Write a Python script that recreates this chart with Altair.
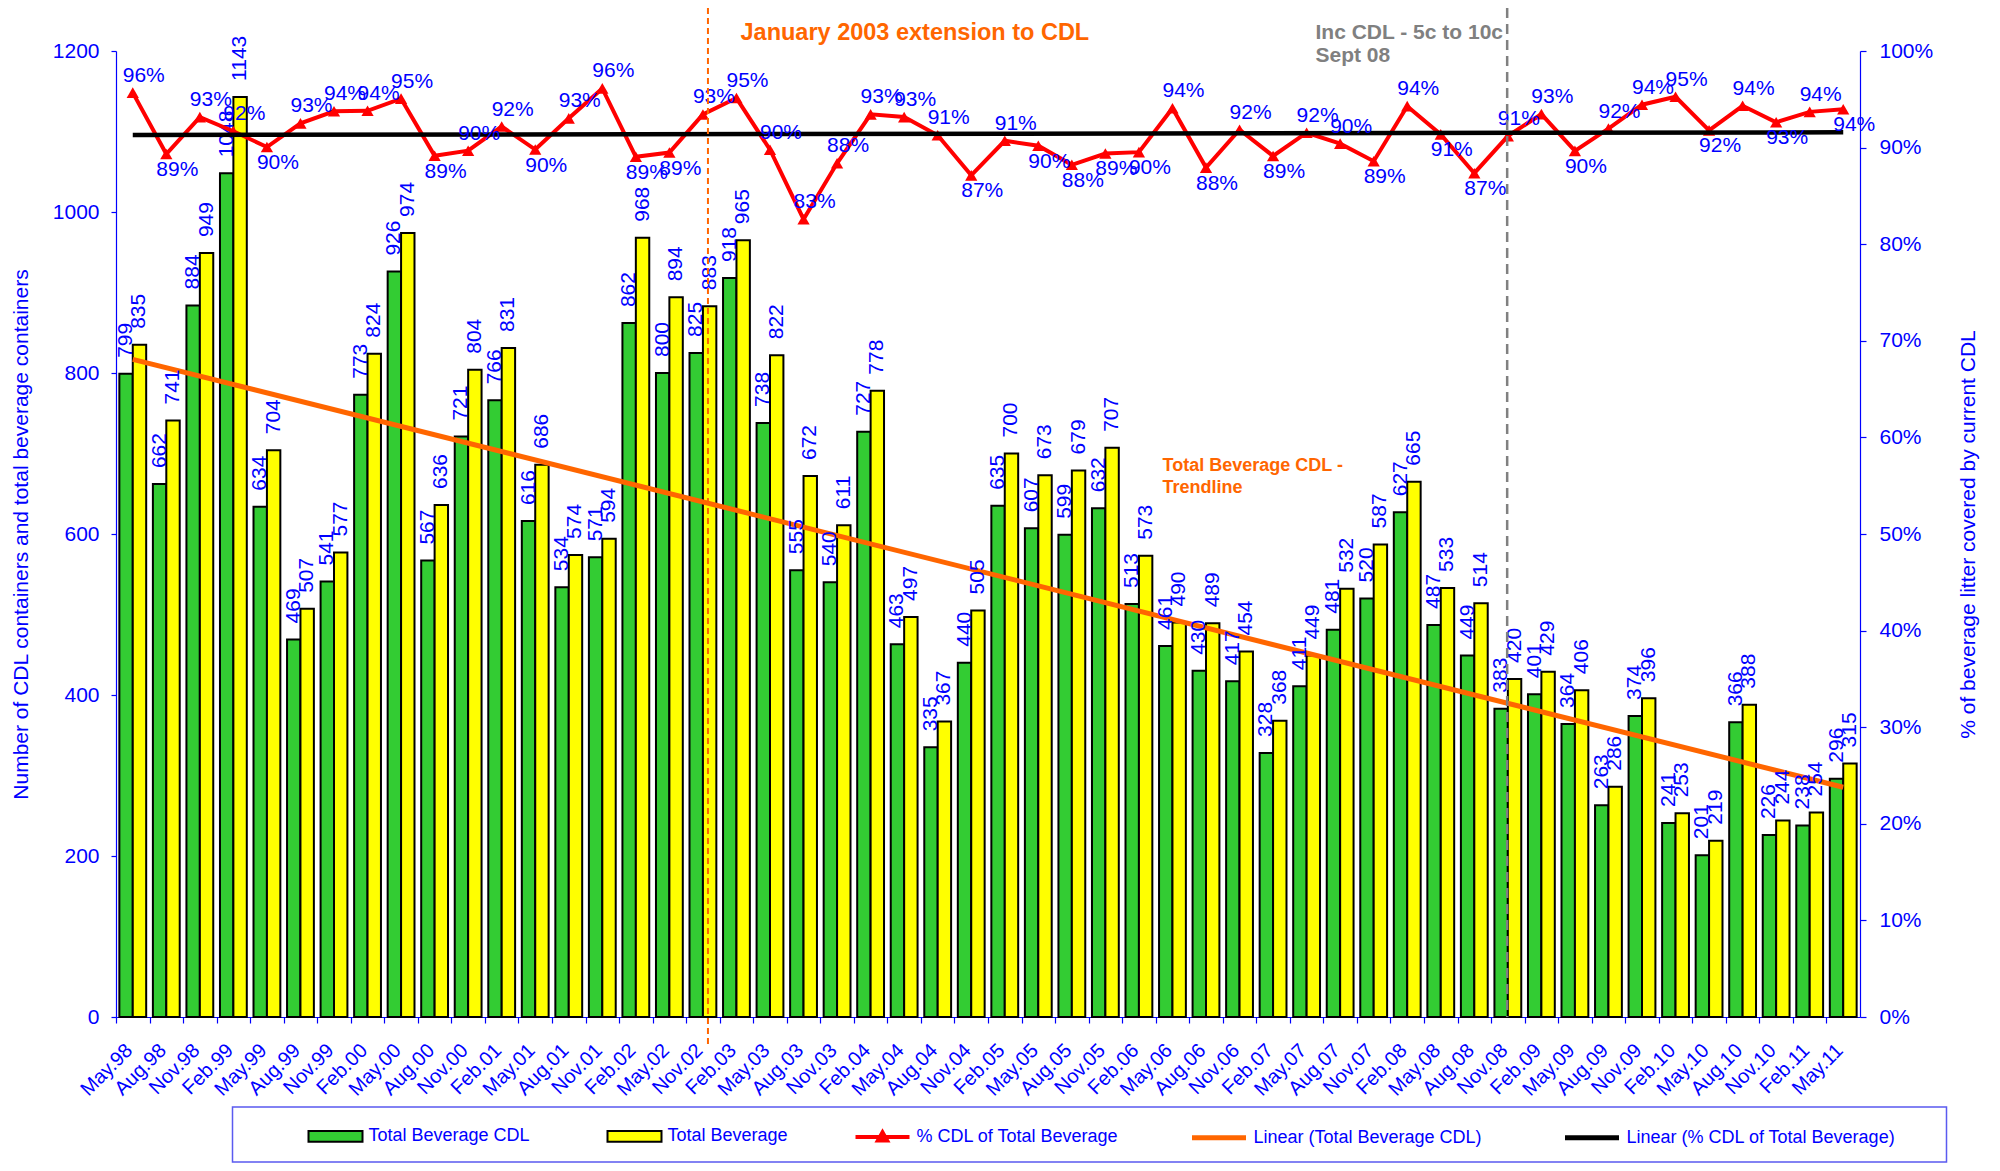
import altair as alt
import pandas as pd

# ---------------- data ----------------
labels = ["May.98", "Aug.98", "Nov.98", "Feb.99", "May.99", "Aug.99", "Nov.99", "Feb.00",
          "May.00", "Aug.00", "Nov.00", "Feb.01", "May.01", "Aug.01", "Nov.01", "Feb.02",
          "May.02", "Nov.02", "Feb.03", "May.03", "Aug.03", "Nov.03", "Feb.04", "May.04",
          "Aug.04", "Nov.04", "Feb.05", "May.05", "Aug.05", "Nov.05", "Feb.06", "May.06",
          "Aug.06", "Nov.06", "Feb.07", "May.07", "Aug.07", "Nov.07", "Feb.08", "May.08",
          "Aug.08", "Nov.08", "Feb.09", "May.09", "Aug.09", "Nov.09", "Feb.10", "May.10",
          "Aug.10", "Nov.10", "Feb.11", "May.11"]

cdl = [799, 662, 884, 1048, 634, 469, 541, 773, 926, 567, 721, 766, 616, 534, 571, 862,
       800, 825, 918, 738, 555, 540, 727, 463, 335, 440, 635, 607, 599, 632, 513, 461,
       430, 417, 328, 411, 481, 520, 627, 487, 449, 383, 401, 364, 263, 374, 241, 201,
       366, 226, 238, 296]

total = [835, 741, 949, 1143, 704, 507, 577, 824, 974, 636, 804, 831, 686, 574, 594, 968,
         894, 883, 965, 822, 672, 611, 778, 497, 367, 505, 700, 673, 679, 707, 573, 490,
         489, 454, 368, 449, 532, 587, 665, 533, 514, 420, 429, 406, 286, 396, 253, 219,
         388, 244, 254, 315]

pct = [95.69, 89.34, 93.15, 91.69, 90.06, 92.51, 93.76, 93.81, 95.07, 89.15, 89.68, 92.18,
       89.80, 93.03, 96.13, 89.05, 89.49, 93.43, 95.13, 89.78, 82.59, 88.38, 93.44, 93.16,
       91.28, 87.13, 90.71, 90.19, 88.22, 89.39, 89.53, 94.08, 87.93, 91.85, 89.13, 91.54,
       90.41, 88.59, 94.29, 91.37, 87.35, 91.19, 93.47, 89.66, 91.96, 94.44, 95.26, 91.78,
       94.33, 92.62, 93.70, 93.97]

# side of the point on which each percentage label sits
pct_label_side = ["above", "below", "above", "above", "below", "above", "above", "above",
                  "above", "below", "above", "above", "below", "above", "above", "below",
                  "below", "above", "above", "above", "above", "above", "above", "above",
                  "above", "below", "above", "below", "below", "below", "below", "above",
                  "below", "above", "below", "above", "above", "below", "above", "below",
                  "below", "above", "above", "below", "above", "above", "above", "below",
                  "above", "below", "above", "below"]

series_names = ["Total Beverage CDL", "Total Beverage"]
pct_name = "% CDL of Total Beverage"
trend_names = ["Linear (Total Beverage CDL)", "Linear (% CDL of Total Beverage)"]

N = len(labels)
df = pd.DataFrame({
    "idx": list(range(1, N + 1)),
    "label": labels,
    "cdl": cdl,
    "total": total,
    "pct": pct,
    "side": pct_label_side,
})

# ---------------- styling ----------------
BLUE = "#0000FF"
FONT = "Liberation Sans"
W, H = 1744, 966

xscale = alt.Scale(domain=[0.5, N + 0.5], nice=False, zero=False)


def yl_scale():
    return alt.Scale(domain=[0, 1200], nice=False)


def yr_scale():
    return alt.Scale(domain=[0, 100], nice=False)


label_js = "[" + ",".join("'%s'" % s for s in labels) + "]"
x_axis = alt.Axis(
    orient="bottom",
    values=[i + 0.5 for i in range(N)],
    labelExpr=label_js + "[round(datum.value - 0.5)]",
    labelAngle=315, labelAlign="right", labelBaseline="middle",
    labelOffset=13, labelPadding=24, labelFontSize=20, labelColor=BLUE, labelFont=FONT,
    labelOverlap=False, labelFlush=False,
    tickSize=6, tickColor=BLUE, tickWidth=1.2, domainColor=BLUE, domainWidth=1.2,
    grid=False, title=None,
)

yl_axis = alt.Axis(
    orient="left",
    values=list(range(0, 1201, 200)),
    format="d",
    title="Number of CDL containers and total beverage containers",
    titleFontSize=21, titleColor=BLUE, titleFont=FONT, titleFontWeight="normal",
    titleAngle=270, titleX=-94.5, titleY=H / 2, titleAlign="center", titleBaseline="middle",
    labelFontSize=21, labelColor=BLUE, labelFont=FONT, labelPadding=12,
    tickSize=5, tickColor=BLUE, tickWidth=1.2, domainColor=BLUE, domainWidth=1.2, grid=False,
)

yr_axis = alt.Axis(
    orient="right",
    values=list(range(0, 101, 10)),
    labelExpr="datum.value + '%'",
    title="% of beverage litter covered by current CDL",
    titleFontSize=21, titleColor=BLUE, titleFont=FONT, titleFontWeight="normal",
    titleAngle=270, titleX=108, titleY=H / 2, titleAlign="center", titleBaseline="middle",
    labelFontSize=21, labelColor=BLUE, labelFont=FONT, labelPadding=13,
    tickSize=6, tickColor=BLUE, tickWidth=1.2, domainColor=BLUE, domainWidth=1.2, grid=False,
)

legend_common = dict(title=None, orient="none", direction="horizontal", padding=0,
                     labelFontSize=18, labelColor=BLUE, labelFont=FONT, labelOffset=5,
                     labelLimit=500, symbolSize=2916, legendY=1057)


def X(field):
    # every layer carries the same x axis definition so the shared axis merges cleanly
    return alt.X(field, scale=xscale, axis=x_axis)


# ---------------- bars (left axis) ----------------
bar_base = alt.Chart(df).transform_fold(["cdl", "total"], as_=["key", "value"]).transform_calculate(
    series="datum.key == 'cdl' ? '%s' : '%s'" % (series_names[0], series_names[1]),
    x0="datum.idx - (datum.key == 'cdl' ? 0.4 : 0)",
).transform_calculate(
    x1="datum.x0 + 0.4",
    xm="datum.x0 + 0.2",
)

bars = bar_base.mark_rect(stroke="black", strokeWidth=2).encode(
    x=X("x0:Q"),
    x2="x1:Q",
    y=alt.Y("value:Q", scale=yl_scale(), axis=yl_axis),
    y2=alt.datum(0),
    fill=alt.Fill("series:N", scale=alt.Scale(domain=series_names, range=["#33CC33", "#FFFF00"]),
                  legend=alt.Legend(legendX=191.5, columnPadding=73,
                                    symbolType="M-1,-0.2H1V0.2H-1Z",
                                    symbolStrokeColor="black", symbolStrokeWidth=2,
                                    **legend_common)),
)

bar_labels = bar_base.mark_text(angle=270, align="left", baseline="middle", dx=16,
                                fontSize=21, color=BLUE, font=FONT).encode(
    x=X("xm:Q"),
    y=alt.Y("value:Q", scale=yl_scale(), axis=None),
    text="value:Q",
)

color_scale = alt.Scale(domain=trend_names, range=["#FF6600", "#000000"])
color_legend = alt.Legend(legendX=1073.5, columnPadding=72, symbolType="M-1,0H1",
                          symbolStrokeWidth=5, **legend_common)

trend_cdl = alt.Chart(df).transform_regression("idx", "cdl", extent=[1, N]).transform_calculate(
    name="'%s'" % trend_names[0]
).mark_line(strokeWidth=5).encode(
    x=X("idx:Q"),
    y=alt.Y("cdl:Q", scale=yl_scale(), axis=None),
    color=alt.Color("name:N", scale=color_scale, legend=color_legend),
)

# ---------------- percentage (right axis) ----------------
pct_base = alt.Chart(df).transform_calculate(
    name="'%s'" % pct_name,
    lbl="format(datum.pct, '.0f') + '%'",
)

pct_line = pct_base.mark_line(strokeWidth=4).encode(
    x=X("idx:Q"),
    y=alt.Y("pct:Q", scale=yr_scale(), axis=yr_axis),
    stroke=alt.Stroke("name:N", scale=alt.Scale(domain=[pct_name], range=["#FF0000"]),
                      legend=alt.Legend(legendX=737.5,
                                        symbolType="M-1,0H1M-0.17,0.13L0,-0.17L0.17,0.13Z",
                                        symbolStrokeWidth=4, symbolFillColor="#FF0000",
                                        **legend_common)),
)

pct_pts = pct_base.mark_point(shape="triangle-up", filled=True, size=150, color="#FF0000",
                              opacity=1).encode(
    x=X("idx:Q"),
    y=alt.Y("pct:Q", scale=yr_scale(), axis=None),
)

trend_pct = alt.Chart(df).transform_regression("idx", "pct", extent=[1, N]).transform_calculate(
    name="'%s'" % trend_names[1]
).mark_line(strokeWidth=4.5).encode(
    x=X("idx:Q"),
    y=alt.Y("pct:Q", scale=yr_scale(), axis=None),
    color=alt.Color("name:N", scale=color_scale, legend=color_legend),
)

pct_lab_above = pct_base.transform_filter("datum.side == 'above'").mark_text(
    dx=11, dy=-17, fontSize=21, color=BLUE, font=FONT, baseline="middle").encode(
    x=X("idx:Q"),
    y=alt.Y("pct:Q", scale=yr_scale(), axis=None),
    text="lbl:N",
)
pct_lab_below = pct_base.transform_filter("datum.side == 'below'").mark_text(
    dx=11, dy=16, fontSize=21, color=BLUE, font=FONT, baseline="middle").encode(
    x=X("idx:Q"),
    y=alt.Y("pct:Q", scale=yr_scale(), axis=None),
    text="lbl:N",
)

# ---------------- annotations ----------------
one = alt.Chart(alt.Data(values=[{"a": 1}]))

rule_2003 = one.mark_rule(color="#FF6600", strokeWidth=2, strokeDash=[6, 4]).encode(
    x=alt.X(datum=18.15, type="quantitative", scale=xscale, axis=x_axis),
    y=alt.value(-43), y2=alt.value(994),
)
rule_2008 = one.mark_rule(color="#808080", strokeWidth=2.5, strokeDash=[10, 6]).encode(
    x=alt.X(datum=41.98, type="quantitative", scale=xscale, axis=x_axis),
    y=alt.value(-43), y2=alt.value(H),
)

txt_2003 = one.mark_text(text="January 2003 extension to CDL", align="left", baseline="alphabetic",
                         fontSize=23.5, fontWeight="bold", color="#FF6600", font=FONT).encode(
    x=alt.value(624.5), y=alt.value(-11))
txt_2008a = one.mark_text(text="Inc CDL - 5c to 10c", align="left", baseline="alphabetic",
                          fontSize=21, fontWeight="bold", color="#808080", font=FONT).encode(
    x=alt.value(1199.5), y=alt.value(-12))
txt_2008b = one.mark_text(text="Sept 08", align="left", baseline="alphabetic",
                          fontSize=21, fontWeight="bold", color="#808080", font=FONT).encode(
    x=alt.value(1199.5), y=alt.value(11))
txt_trend_a = one.mark_text(text="Total Beverage CDL -", align="left", baseline="middle",
                            fontSize=18, fontWeight="bold", color="#FF6600", font=FONT).encode(
    x=alt.value(1046.5), y=alt.value(415))
txt_trend_b = one.mark_text(text="Trendline", align="left", baseline="middle",
                            fontSize=18, fontWeight="bold", color="#FF6600", font=FONT).encode(
    x=alt.value(1046.5), y=alt.value(437))

legend_box = one.mark_rect(fill="transparent", stroke="#5A5AF0", strokeWidth=1.5).encode(
    x=alt.value(116.5), x2=alt.value(1830.5), y=alt.value(1056), y2=alt.value(1111))

chart = alt.layer(
    bars, trend_cdl, bar_labels,
    pct_line, pct_pts, trend_pct, pct_lab_above, pct_lab_below,
    rule_2003, rule_2008, txt_2003, txt_2008a, txt_2008b, txt_trend_a, txt_trend_b, legend_box,
).resolve_scale(y="independent").properties(
    width=W, height=H,
    autosize=alt.AutoSizeParams(type="none"),
    padding={"left": 108, "top": 43, "right": 132, "bottom": 146},
).configure(font=FONT).configure_view(stroke=None)

chart.save("out.html", embed_options={"renderer": "svg", "actions": False})
